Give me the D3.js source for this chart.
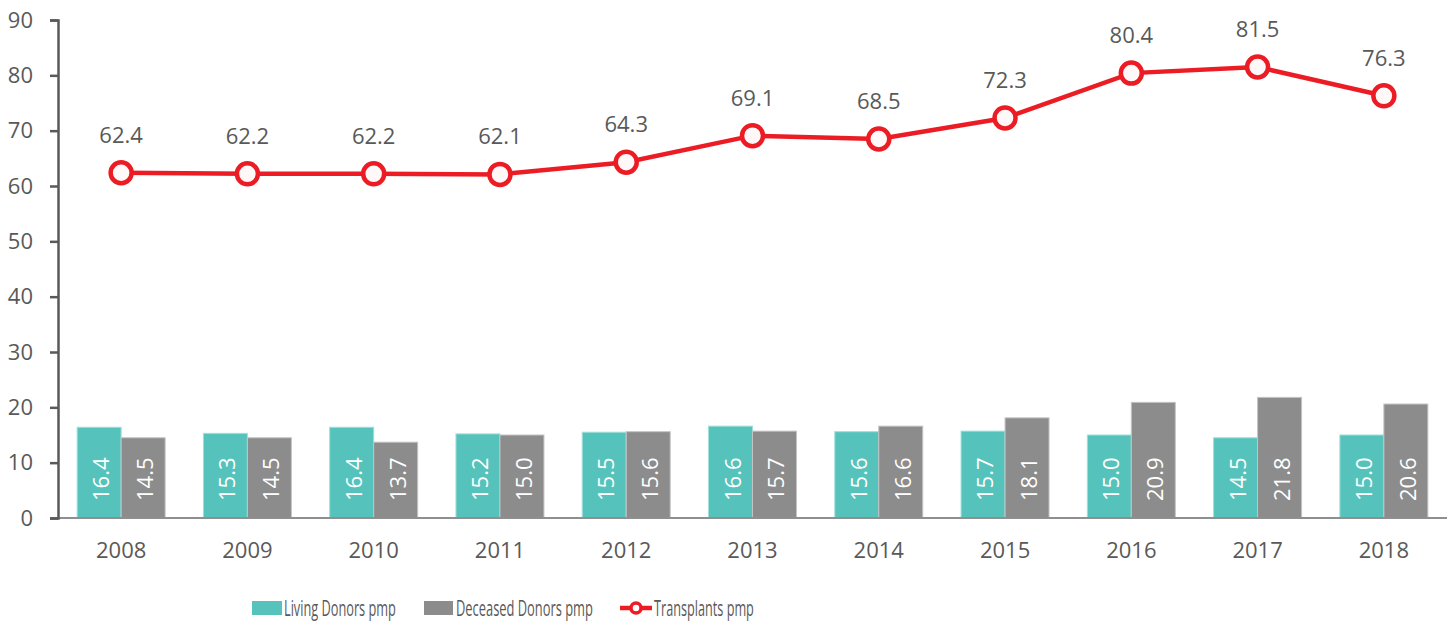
<!DOCTYPE html>
<html>
<head>
<meta charset="utf-8">
<script src="https://cdn.jsdelivr.net/npm/d3@7"></script>
<style>
  html, body { margin: 0; padding: 0; background: #fff; }
  svg { display: block; font-family: "Open Sans", sans-serif; }
</style>
</head>
<body>
<svg id="chart" width="1450" height="621"></svg>
<script>
const years = ["2008","2009","2010","2011","2012","2013","2014","2015","2016","2017","2018"];
const livingDonors = [16.4,15.3,16.4,15.2,15.5,16.6,15.6,15.7,15.0,14.5,15.0];
const deceasedDonors = [14.5,14.5,13.7,15.0,15.6,15.7,16.6,18.1,20.9,21.8,20.6];
const transplants = [62.4,62.2,62.2,62.1,64.3,69.1,68.5,72.3,80.4,81.5,76.3];
const yTicks = [0,10,20,30,40,50,60,70,80,90];
const seriesNames = ["Living Donors pmp","Deceased Donors pmp","Transplants pmp"];

const colors = { living: "#55C3BB", deceased: "#8C8C8C", line: "#EC1C24", text: "#595959" };

const svg = d3.select("#chart");
const mLeft = 58, mRight = 1447, mTop = 20, mBottom = 518;

const x = d3.scaleBand().domain(years).range([mLeft, mRight]).padding(0);
const sub = d3.scaleBand().domain(["living","deceased"]).range([0, x.bandwidth()]).paddingInner(0).paddingOuter(0.435);
const y = d3.scaleLinear().domain([0, 90]).range([mBottom, mTop]);

// Bars
const barData = [];
years.forEach((yr, i) => {
  barData.push({ year: yr, key: "living", value: livingDonors[i] });
  barData.push({ year: yr, key: "deceased", value: deceasedDonors[i] });
});

const bars = svg.append("g");
bars.selectAll("rect").data(barData).join("rect")
  .attr("x", d => x(d.year) + sub(d.key))
  .attr("y", d => y(d.value))
  .attr("width", sub.bandwidth())
  .attr("height", d => y(0) - y(d.value))
  .attr("fill", d => colors[d.key])
  .attr("stroke", d => d.key === "living" ? "#9fe0da" : "#c4c4c4")
  .attr("stroke-width", 1);

bars.selectAll("text").data(barData).join("text")
  .attr("transform", d => `translate(${x(d.year) + sub(d.key) + sub.bandwidth()/2 + 10}, ${y(0) - 17}) rotate(-90)`)
  .attr("text-anchor", "start")
  .attr("fill", "#ffffff")
  .attr("font-size", 22)
  .text(d => d.value.toFixed(1));

// X axis line
svg.append("line")
  .attr("x1", mLeft).attr("x2", mRight)
  .attr("y1", y(0)).attr("y2", y(0))
  .attr("stroke", "#8f8f8f").attr("stroke-width", 2);

// Y axis
const yAxis = d3.axisLeft(y).tickValues(yTicks).tickSize(8).tickPadding(17).tickFormat(d3.format("d"));
const yg = svg.append("g").attr("transform", `translate(${mLeft},0)`).call(yAxis);
yg.select(".domain").attr("stroke", colors.text).attr("stroke-width", 2.5);
yg.selectAll(".tick line").attr("stroke", colors.text).attr("stroke-width", 2.5);
yg.selectAll(".tick text").attr("fill", colors.text).attr("font-size", 22).attr("font-family", "Open Sans, sans-serif");

// X labels
const xAxis = d3.axisBottom(x).tickSize(0).tickPadding(24);
const xg = svg.append("g").attr("transform", `translate(0,${mBottom})`).call(xAxis);
xg.select(".domain").remove();
xg.selectAll(".tick text").attr("fill", colors.text).attr("font-size", 22).attr("font-family", "Open Sans, sans-serif");

// Line
const lineGen = d3.line().x((d, i) => x(years[i]) + x.bandwidth()/2).y(d => y(d));
svg.append("path").datum(transplants)
  .attr("d", lineGen)
  .attr("fill", "none")
  .attr("stroke", colors.line)
  .attr("stroke-width", 4.5);

svg.append("g").selectAll("circle").data(transplants).join("circle")
  .attr("cx", (d, i) => x(years[i]) + x.bandwidth()/2)
  .attr("cy", d => y(d))
  .attr("r", 10.5)
  .attr("fill", "#fff8f8")
  .attr("stroke", colors.line)
  .attr("stroke-width", 4.5);

svg.append("g").selectAll("text").data(transplants).join("text")
  .attr("x", (d, i) => x(years[i]) + x.bandwidth()/2)
  .attr("y", d => y(d) - 30)
  .attr("text-anchor", "middle")
  .attr("fill", colors.text)
  .attr("font-size", 22)
  .text(d => d.toFixed(1));

// Legend
const lg = svg.append("g");
function legendText(px, target, label) {
  const t = lg.append("text").attr("x", 0).attr("y", 0)
    .attr("fill", colors.text).attr("font-size", 21).text(label);
  const len = t.node().getComputedTextLength();
  t.attr("transform", `translate(${px},615.5) scale(${target / len},1)`);
}
lg.append("rect").attr("x", 252).attr("y", 601).attr("width", 30).attr("height", 14).attr("fill", colors.living);
legendText(284, 112, seriesNames[0]);
lg.append("rect").attr("x", 424).attr("y", 601).attr("width", 29).attr("height", 14).attr("fill", colors.deceased);
legendText(456, 137, seriesNames[1]);
lg.append("line").attr("x1", 620).attr("x2", 652).attr("y1", 608).attr("y2", 608)
  .attr("stroke", colors.line).attr("stroke-width", 4.5);
lg.append("circle").attr("cx", 636).attr("cy", 608).attr("r", 5).attr("fill", "#fff").attr("stroke", colors.line).attr("stroke-width", 3.5);
legendText(654, 100, seriesNames[2]);
</script>
</body>
</html>
